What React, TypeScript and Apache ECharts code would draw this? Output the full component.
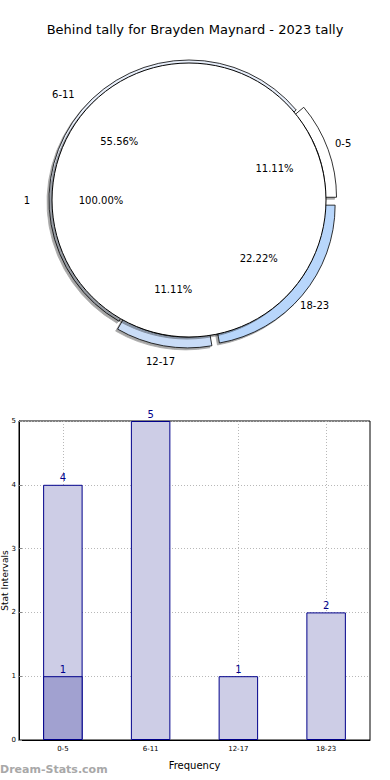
import React, { useEffect, useRef } from "react";
import * as echarts from "echarts";

const TITLE = "Behind tally for Brayden Maynard - 2023 tally";
const innerNames = ["1"];
const innerValues = [9];
const outerNames = ["0-5", "6-11", "12-17", "18-23"];
const outerValues = [1, 5, 1, 2];
const outerExploded = [true, false, true, true];
const outerColors = ["#ffffff", "#e8effb", "#c9dcf7", "#b8d6fb"];
const barCategories = ["0-5", "6-11", "12-17", "18-23"];
const barTotals = [4, 5, 1, 2];
const barOverlay = [1, null, null, null];
const yTicks = [0, 1, 2, 3, 4, 5];

const FONT = "DejaVu Sans";

function pct(values: number[], v: number) {
  const t = values.reduce((a, b) => a + b, 0);
  return ((v / t) * 100).toFixed(2) + "%";
}

export default function App() {
  const ref = useRef<HTMLDivElement>(null);
  useEffect(() => {
    document.body.style.margin = "0";
    const chart = echarts.init(ref.current!, null, { renderer: "svg" });
    const center = [189, 200];
    const R = 137;
    const transparent = { color: "rgba(0,0,0,0)", borderWidth: 0 };
    const labelBase = { fontFamily: FONT, fontSize: 10, color: "#000" };
    const shadow = {
      shadowBlur: 1,
      shadowColor: "rgba(0,0,0,0.35)",
      shadowOffsetX: -2,
      shadowOffsetY: 2,
    };
    chart.setOption({
      animation: false,
      title: {
        text: TITLE,
        left: "center",
        top: 18,
        textStyle: { fontFamily: FONT, fontSize: 13, fontWeight: "normal", color: "#000" },
      },
      graphic: [
        {
          type: "text",
          left: 0,
          top: 764,
          style: {
            text: "Dream-Stats.com",
            fontFamily: FONT,
            fontSize: 11,
            fontWeight: "bold",
            fill: "#a8a8a8",
          },
        },
      ],
      grid: {
        left: 19,
        right: 20,
        top: 421,
        bottom: 40,
        show: true,
        borderColor: "#000",
        borderWidth: 1,
        containLabel: false,
        outerBoundsMode: "none",
      },
      xAxis: {
        type: "category",
        data: barCategories,
        name: "Frequency",
        nameLocation: "middle",
        nameGap: 20,
        nameMoveOverlap: false,
        nameTextStyle: { fontFamily: FONT, fontSize: 10, color: "#000" },
        axisLine: { lineStyle: { color: "#000" } },
        axisTick: { show: true, alignWithLabel: true, inside: true, length: 3, lineStyle: { color: "#888" } },
        axisLabel: { fontFamily: FONT, fontSize: 7, color: "#000", margin: 5 },
        splitLine: {
          show: true,
          alignWithLabel: true,
          lineStyle: { color: "#b8b8b8", type: [1, 2], width: 1 },
        },
      },
      yAxis: {
        type: "value",
        min: 0,
        max: 5,
        interval: 1,
        name: "Stat Intervals",
        nameLocation: "middle",
        nameGap: 10,
        nameMoveOverlap: false,
        nameTextStyle: { fontFamily: FONT, fontSize: 9, color: "#000" },
        axisLine: { show: true, lineStyle: { color: "#000" } },
        axisTick: { show: true, inside: true, length: 3, lineStyle: { color: "#888" } },
        axisLabel: {
          fontFamily: FONT,
          fontSize: 7,
          color: "#000",
          margin: 3,
          formatter: (v: number) => (yTicks.includes(v) ? String(v) : ""),
        },
        splitLine: { show: true, lineStyle: { color: "#b8b8b8", type: [1, 2], width: 1 } },
      },
      series: [
        {
          type: "pie",
          name: "outerRing",
          center,
          radius: [R - 8, R + 3],
          startAngle: 0,
          clockwise: false,
          z: 1,
          silent: true,
          selectedMode: "multiple",
          selectedOffset: 8,
          label: { show: false },
          labelLine: { show: false },
          itemStyle: { borderColor: "#000", borderWidth: 0.8, ...shadow },
          data: outerNames.map((n, i) => ({
            name: n,
            value: outerValues[i],
            selected: outerExploded[i],
            itemStyle: { color: outerColors[i] },
          })),
        },
        {
          type: "pie",
          name: "innerPie",
          center,
          radius: [0, R],
          startAngle: 0,
          clockwise: false,
          z: 3,
          silent: true,
          label: { show: false },
          labelLine: { show: false },
          itemStyle: { color: "#ffffff", borderColor: "#000", borderWidth: 1, ...shadow },
          data: innerNames.map((n, i) => ({ name: n, value: innerValues[i] })),
        },
        {
          type: "pie",
          name: "innerNameLabels",
          center,
          radius: [152, 166],
          startAngle: 0,
          clockwise: false,
          z: 5,
          silent: true,
          itemStyle: transparent,
          label: { show: true, position: "inside", ...labelBase, formatter: "{b}" },
          labelLine: { show: false },
          data: innerNames.map((n, i) => ({ name: n, value: innerValues[i] })),
        },
        {
          type: "pie",
          name: "innerPctLabels",
          center,
          radius: [0, 170],
          startAngle: 0,
          clockwise: false,
          z: 5,
          silent: true,
          itemStyle: transparent,
          label: {
            show: true,
            position: "inside",
            ...labelBase,
            formatter: (p: any) => pct(innerValues, p.value),
          },
          labelLine: { show: false },
          data: innerNames.map((n, i) => ({ name: n, value: innerValues[i] })),
        },
        {
          type: "pie",
          name: "outerNameLabels",
          center,
          radius: [150, 172],
          startAngle: 0,
          clockwise: false,
          z: 5,
          silent: true,
          itemStyle: transparent,
          label: { show: true, position: "inside", ...labelBase, formatter: "{b}" },
          labelLine: { show: false },
          data: outerNames.map((n, i) => ({ name: n, value: outerValues[i] })),
        },
        {
          type: "pie",
          name: "outerPctLabels",
          center,
          radius: [0, 176],
          startAngle: 0,
          clockwise: false,
          z: 5,
          silent: true,
          itemStyle: transparent,
          label: {
            show: true,
            position: "inside",
            ...labelBase,
            formatter: (p: any) => pct(outerValues, p.value),
          },
          labelLine: { show: false },
          data: outerNames.map((n, i) => ({ name: n, value: outerValues[i] })),
        },
        {
          type: "bar",
          name: "totals",
          data: barTotals,
          barWidth: "45%",
          z: 2,
          itemStyle: { color: "#cdcde6", borderColor: "#00008b", borderWidth: 1 },
          label: {
            show: true,
            position: "top",
            distance: 2,
            fontFamily: FONT,
            fontSize: 10,
            color: "#00008b",
          },
        },
        {
          type: "bar",
          name: "overlay",
          data: barOverlay,
          barWidth: "45%",
          barGap: "-100%",
          z: 3,
          itemStyle: { color: "#a1a1d0", borderColor: "#00008b", borderWidth: 1 },
          label: {
            show: true,
            position: "top",
            distance: 2,
            fontFamily: FONT,
            fontSize: 10,
            color: "#00008b",
          },
        },
      ],
    });
    return () => chart.dispose();
  }, []);
  return (
    <div
      ref={ref}
      style={{ position: "absolute", left: 0, top: 0, width: 390, height: 780, background: "#fff" }}
    />
  );
}
